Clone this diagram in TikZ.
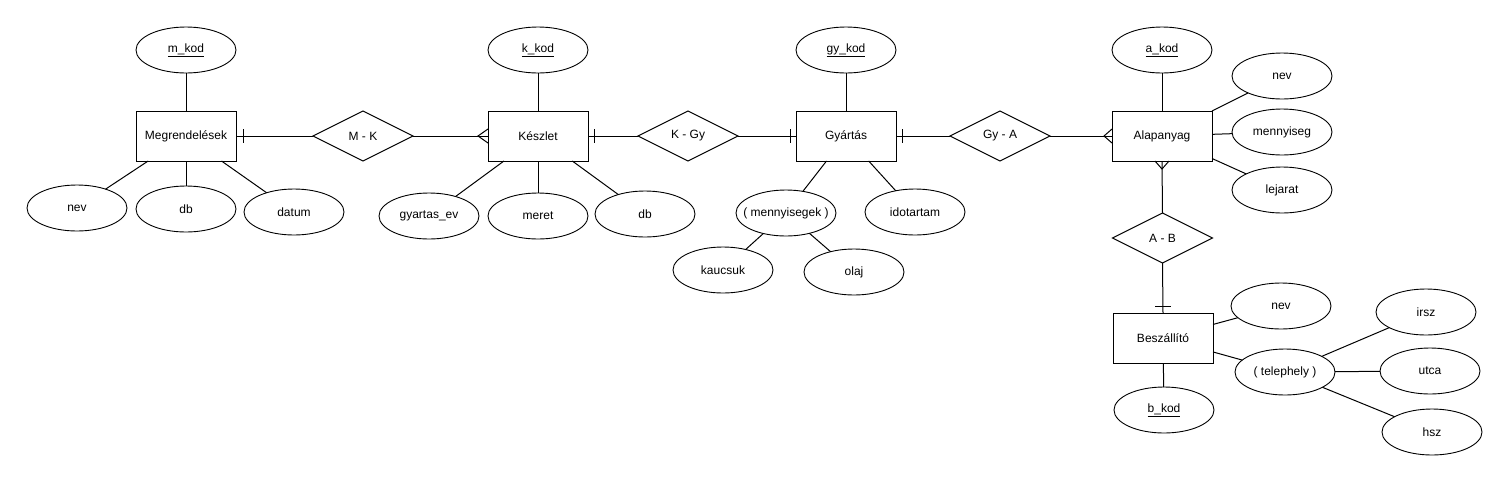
\documentclass[tikz,border=0pt]{standalone}
\usepackage{fontspec}
\setmainfont{Liberation Sans}
\usetikzlibrary{shapes.geometric}
\newcommand\zb[1]{\makebox[0pt]{#1}}
\begin{document}
\begin{tikzpicture}[x=1pt,y=-1pt,
  every node/.style={font=\fontsize{12}{14}\selectfont},
  ent/.style={draw,rectangle,minimum width=100pt,minimum height=50pt,inner sep=0pt,outer sep=0pt,line width=1pt},
  rel/.style={draw,diamond,aspect=2,minimum width=100pt,minimum height=50pt,inner sep=0pt,outer sep=0pt,line width=1pt},
  attr/.style={draw,ellipse,minimum width=100pt,minimum height=46pt,inner sep=0pt,outer sep=0pt,line width=0.9pt},
  con/.style={line width=1pt}]
\useasboundingbox[fill=white] (0,0) rectangle (1508,483);
% entities
\node[ent] (M) at (186,136) {Megrendelések};
\node[ent] (K) at (538,136) {Készlet};
\node[ent] (G) at (846,136) {Gyártás};
\node[ent] (A) at (1162,136) {Alapanyag};
\node[ent] (B) at (1163,338) {Beszállító};
% relationships
\node[rel] (MK) at (363,136) {M - K};
\node[rel] (KG) at (688,136) {K - Gy};
\node[rel] (GA) at (1000,136) {Gy - A};
\node[rel] (AB) at (1162.5,238) {A - B};
% attributes
\node[attr] (Mk) at (186,50) {\zb{\underline{m\_kod}}};
\node[attr] (Mnev) at (77,208) {\zb{nev}};
\node[attr] (Mdb) at (186,209) {\zb{db}};
\node[attr] (Mdat) at (294,212) {\zb{datum}};
\node[attr] (Kk) at (538,50) {\zb{\underline{k\_kod}}};
\node[attr] (Kgy) at (429,216) {\zb{gyartas\_ev}};
\node[attr] (Kme) at (538,216) {\zb{meret}};
\node[attr] (Kdb) at (645,214) {\zb{db}};
\node[attr] (Gk) at (846,50) {\zb{\underline{gy\_kod}}};
\node[attr] (Gme) at (786,213) {\zb{( mennyisegek )}};
\node[attr] (Gido) at (915,212) {\zb{idotartam}};
\node[attr] (Gka) at (723,270) {\zb{kaucsuk}};
\node[attr] (Gol) at (854,272) {\zb{olaj}};
\node[attr] (Ak) at (1162,50) {\zb{\underline{a\_kod}}};
\node[attr] (Anev) at (1282,76) {\zb{nev}};
\node[attr] (Amen) at (1282,132) {\zb{mennyiseg}};
\node[attr] (Alej) at (1282,190) {\zb{lejarat}};
\node[attr] (Bnev) at (1281,306) {\zb{nev}};
\node[attr] (Bk) at (1164,410) {\zb{\underline{b\_kod}}};
\node[attr] (Btel) at (1285,372) {\zb{( telephely )}};
\node[attr] (Bir) at (1426,312) {\zb{irsz}};
\node[attr] (Bu) at (1430,371) {\zb{utca}};
\node[attr] (Bh) at (1432,432) {\zb{hsz}};
% attribute connectors
\draw[con] (M) -- (Mk);
\draw[con] (M) -- (Mnev);
\draw[con] (M) -- (Mdb);
\draw[con] (M) -- (Mdat);
\draw[con] (K) -- (Kk);
\draw[con] (K) -- (Kgy);
\draw[con] (K) -- (Kme);
\draw[con] (K) -- (Kdb);
\draw[con] (G) -- (Gk);
\draw[con] (G) -- (Gme);
\draw[con] (G) -- (Gido);
\draw[con] (Gme) -- (Gka);
\draw[con] (Gme) -- (Gol);
\draw[con] (A) -- (Ak);
\draw[con] (A) -- (Anev);
\draw[con] (A) -- (Amen);
\draw[con] (A) -- (Alej);
\draw[con] (B) -- (Bnev);
\draw[con] (B) -- (Bk);
\draw[con] (B) -- (Btel);
\draw[con] (Btel) -- (Bir);
\draw[con] (Btel) -- (Bu);
\draw[con] (Btel) -- (Bh);
% relationship connectors
\draw[con] (M) -- (MK);
\draw[con] (MK) -- (K);
\draw[con] (K) -- (KG);
\draw[con] (KG) -- (G);
\draw[con] (G) -- (GA);
\draw[con] (GA) -- (A);
\draw[con] (A.south) -- (AB.north);
\draw[con] (AB.south) -- (B.north);
% cardinality marks
\draw[con] ([xshift=7pt,yshift=7pt]M.east) -- ([xshift=7pt,yshift=-7pt]M.east);
\draw[con] ([yshift=7pt]K.west) -- ([xshift=-10pt]K.west) -- ([yshift=-7pt]K.west);
\draw[con] ([xshift=6pt,yshift=7pt]K.east) -- ([xshift=6pt,yshift=-7pt]K.east);
\draw[con] ([xshift=-6pt,yshift=7pt]G.west) -- ([xshift=-6pt,yshift=-7pt]G.west);
\draw[con] ([xshift=6pt,yshift=7pt]G.east) -- ([xshift=6pt,yshift=-7pt]G.east);
\draw[con] ([yshift=7pt]A.west) -- ([xshift=-8pt]A.west) -- ([yshift=-7pt]A.west);
\draw[con] ([xshift=-7pt]A.south) -- ([yshift=-8pt]A.south) -- ([xshift=7pt]A.south);
\draw[con] ([xshift=-8pt,yshift=7pt]B.north) -- ([xshift=8pt,yshift=7pt]B.north);
\end{tikzpicture}
\end{document}
